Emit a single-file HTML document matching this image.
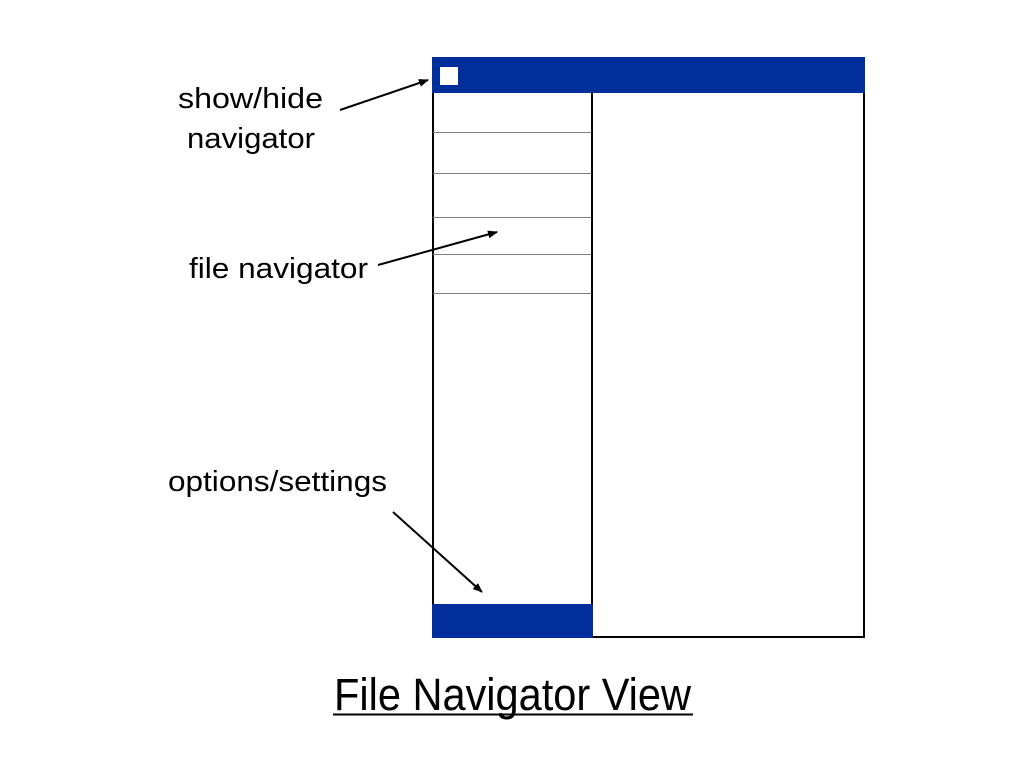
<!DOCTYPE html>
<html><head><meta charset="utf-8"><style>
html,body{margin:0;padding:0;background:#fff;width:1024px;height:768px;overflow:hidden}
svg{display:block}
text{font-family:"Liberation Sans",sans-serif;fill:#000}
</style></head><body>
<svg width="1024" height="768" viewBox="0 0 1024 768">
<defs><marker id="ah" markerWidth="10" markerHeight="8" refX="9" refY="4" orient="auto" markerUnits="userSpaceOnUse"><path d="M0,0 L10,4 L0,8 Z" fill="#000"/></marker></defs>
<g>
<rect x="433" y="58" width="431" height="579" fill="#fff" stroke="#000" stroke-width="2"/>
<rect x="432" y="57" width="433" height="36" fill="#002f9b"/>
<rect x="440" y="67" width="18" height="18" fill="#fff"/>
<line x1="592" y1="92" x2="592" y2="637" stroke="#000" stroke-width="2"/>
<g stroke="#808080" stroke-width="1">
<line x1="433" y1="132.5" x2="591" y2="132.5"/>
<line x1="433" y1="173.5" x2="591" y2="173.5"/>
<line x1="433" y1="217.5" x2="591" y2="217.5"/>
<line x1="433" y1="254.5" x2="591" y2="254.5"/>
<line x1="433" y1="293.5" x2="591" y2="293.5"/>
</g>
<rect x="432" y="604" width="161" height="34" fill="#002f9b"/>
</g>
<g stroke="#000" stroke-width="2" fill="none">
<line x1="340" y1="110" x2="428" y2="80" marker-end="url(#ah)"/>
<line x1="378" y1="265" x2="497" y2="232" marker-end="url(#ah)"/>
<line x1="393" y1="512" x2="482" y2="592" marker-end="url(#ah)"/>
</g>
<text x="178" y="108" font-size="29" textLength="145" lengthAdjust="spacingAndGlyphs">show/hide</text>
<text x="187" y="148" font-size="29" textLength="128" lengthAdjust="spacingAndGlyphs">navigator</text>
<text x="189" y="278" font-size="29" textLength="179" lengthAdjust="spacingAndGlyphs">file navigator</text>
<text x="168" y="491" font-size="29" textLength="219" lengthAdjust="spacingAndGlyphs">options/settings</text>
<text x="334" y="710" font-size="45" textLength="357" lengthAdjust="spacingAndGlyphs">File Navigator View</text>
<line x1="333" y1="714.5" x2="693" y2="714.5" stroke="#000" stroke-width="2"/>
</svg>
</body></html>
